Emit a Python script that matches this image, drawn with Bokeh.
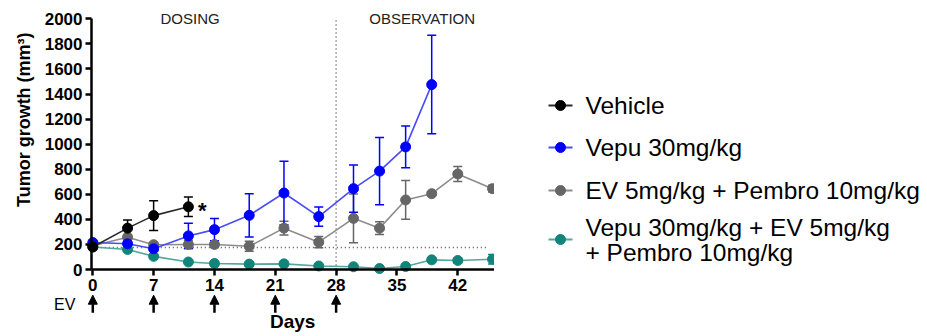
import math

from bokeh.core.properties import value
from bokeh.embed import file_html
from bokeh.layouts import row
from bokeh.models import (Arrow, ColumnDataSource, FixedTicker, Label,
                          LinearAxis, NormalHead, Range1d, TeeHead, Whisker)
from bokeh.plotting import figure
from bokeh.resources import INLINE

FONT = "Liberation Sans"

# ---- tumour volume data (mean ± SEM, mm³) ----
vehicle_days = [0, 4, 7, 11]
vehicle_mean = [180, 330, 430, 500]
vehicle_sem = [0, 65, 118, 78]

vepu_days = [0, 4, 7, 11, 14, 18, 22, 26, 30, 33, 36, 39]
vepu_mean = [215, 205, 165, 268, 318, 432, 610, 422, 645, 785, 978, 1475]
vepu_sem = [15, 20, 20, 100, 88, 172, 253, 77, 188, 268, 166, 393]

ev_days = [0, 4, 7, 11, 14, 18, 22, 26, 30, 33, 36, 39, 42, 46]
ev_mean = [190, 258, 198, 200, 200, 185, 330, 218, 408, 330, 555, 605, 762, 645]
ev_sem = [0, 20, 15, 33, 25, 40, 55, 45, 195, 50, 155, 15, 60, 27]

combo_days = [0, 4, 7, 11, 14, 18, 22, 26, 30, 33, 36, 39, 42, 46]
combo_mean = [180, 160, 105, 60, 48, 43, 45, 28, 22, 8, 24, 77, 72, 82]
combo_sem = [0, 10, 10, 8, 8, 8, 8, 8, 8, 5, 8, 10, 18, 38]

series_names = ["Vehicle", "Vepu 30mg/kg", "EV 5mg/kg + Pembro 10mg/kg",
                ["Vepu 30mg/kg + EV 5mg/kg", "+ Pembro 10mg/kg"]]

dose_days = [0, 7, 14, 21, 28]
x_ticks = [0, 7, 14, 21, 28, 35, 42]
y_ticks = list(range(0, 2001, 200))
baseline_level = 175
phase_split_day = 28
phase_labels = ["DOSING", "OBSERVATION"]
phase_label_days = [11.2, 37.9]

# styling per series: (marker colour, line colour)
styles = [
    ("#000000", "#2a2a2a"),
    ("#0000ff", "#4a4aff"),
    ("#666666", "#8c8c8c"),
    ("#12857a", "#52a79e"),
]

# The plotting frame fills the whole canvas so that the headings, dose
# arrows and titles around the axes can be drawn in data space too.
X_LO, X_HI = -0.15, 46.2          # visible extent of the time axis
Y_LO, Y_HI = 0, 2000              # visible extent of the volume axis
W, H = 494, 336
PX_PER_DAY = 8.69
PX_PER_MM3 = 0.12535
ORIGIN_PX = (92.3, 269.0)
x_range = Range1d(-ORIGIN_PX[0] / PX_PER_DAY, (W - ORIGIN_PX[0]) / PX_PER_DAY)
y_range = Range1d(-(H - ORIGIN_PX[1]) / PX_PER_MM3, ORIGIN_PX[1] / PX_PER_MM3)

p = figure(width=W, height=H, x_range=x_range, y_range=y_range,
           min_border=0, x_axis_location=None, y_axis_location=None,
           output_backend="svg", toolbar_location=None)
p.grid.visible = False
p.outline_line_color = None

xaxis = LinearAxis(fixed_location=Y_LO, bounds=(X_LO, X_HI),
                   ticker=FixedTicker(ticks=x_ticks))
yaxis = LinearAxis(fixed_location=X_LO, bounds=(Y_LO, Y_HI),
                   ticker=FixedTicker(ticks=y_ticks))
for ax in (xaxis, yaxis):
    ax.axis_line_width = 2.5
    ax.axis_line_color = "black"
    ax.major_tick_line_width = 2.5
    ax.major_tick_line_color = "black"
    ax.major_tick_out = 6
    ax.major_tick_in = 0
    ax.minor_tick_line_color = None
    ax.major_label_text_font = FONT
    ax.major_label_text_font_style = "bold"
    ax.major_label_text_font_size = "17px"
    ax.major_label_text_color = "black"
    ax.major_label_standoff = 3
p.add_layout(xaxis, "below")
p.add_layout(yaxis, "left")

# phase divider and baseline reference
p.line([phase_split_day, phase_split_day], [Y_LO, Y_HI], line_color="#555555",
       line_width=1.5, line_dash="1 3")
p.line([0, 45.5], [baseline_level, baseline_level], line_color="#555555",
       line_width=1.5, line_dash="1 3")

series = [
    (vehicle_days, vehicle_mean, vehicle_sem),
    (vepu_days, vepu_mean, vepu_sem),
    (ev_days, ev_mean, ev_sem),
    (combo_days, combo_mean, combo_sem),
]

# draw bottom-most group first so the vehicle sits on top
for idx in [3, 2, 1, 0]:
    days, mean, sem = series[idx]
    mcol, lcol = styles[idx]
    p.line(days, mean, line_color=lcol, line_width=1.6)
    keep = [i for i, s in enumerate(sem) if s > 0]
    src = ColumnDataSource(dict(
        x=[days[i] for i in keep],
        upper=[mean[i] + sem[i] for i in keep],
        lower=[mean[i] - sem[i] for i in keep],
    ))
    p.add_layout(Whisker(source=src, base="x", upper="upper", lower="lower",
                         line_color=mcol, line_width=1.5,
                         upper_head=TeeHead(size=9, line_color=mcol, line_width=1.5),
                         lower_head=TeeHead(size=9, line_color=mcol, line_width=1.5)))
    p.scatter(days, mean, size=10, fill_color=mcol, line_color=mcol)

# significance marker next to the last vehicle point
p.add_layout(Label(x=vehicle_days[-1] + 1.1, y=vehicle_mean[-1], text="*",
                   text_font=FONT, text_font_style="bold", text_font_size="22px",
                   text_baseline="middle", text_align="left", text_color="black",
                   y_offset=-4))

# phase headings, sitting on the top of the volume axis
for name, d in zip(phase_labels, phase_label_days):
    p.add_layout(Label(x=d, y=Y_HI, y_offset=0, text=name, text_font=FONT,
                       text_font_size="15px", text_align="center",
                       text_baseline="alphabetic", text_color="#222222"))

# dosing arrows under the time axis
for d in dose_days:
    p.add_layout(Arrow(x_start=d, y_start=-345, x_end=d, y_end=-205,
                       line_color="black", line_width=2.5,
                       end=NormalHead(size=9, fill_color="black",
                                      line_color="black", line_width=1)))
p.add_layout(Label(x=-2.0, y=-279, text="EV", text_font=FONT,
                   text_font_size="16px", text_align="right",
                   text_baseline="middle", text_color="black"))

# time-axis title, placed below the dosing arrows
p.add_layout(Label(x=23, y=-418, text="Days", text_font=FONT,
                   text_font_style="bold", text_font_size="19px",
                   text_align="center", text_baseline="middle",
                   text_color="black"))

p.add_layout(Label(x=-7.9, y=1195, text="Tumor growth (mm³)", angle=math.pi / 2,
                   text_font=FONT, text_font_style="bold", text_font_size="18px",
                   text_align="center", text_baseline="middle",
                   text_color="black"))

# ---- legend panel (coordinates in page pixels) ----
LW = 927 - W
lg = figure(width=LW, height=H, x_range=Range1d(W, W + LW),
            y_range=Range1d(H, 0), min_border=0, x_axis_location=None,
            y_axis_location=None, output_backend="svg", toolbar_location=None)
lg.grid.visible = False
lg.outline_line_color = None

entry_rows = [105, 147, 190, 239]
line_gap = 25
for (mcol, lcol), name, ycen in zip(styles, series_names, entry_rows):
    lg.line([548, 572], [ycen, ycen], line_color=lcol, line_width=2)
    lg.scatter([560], [ycen], size=10, fill_color=mcol, line_color=mcol)
    lines = name if isinstance(name, list) else [name]
    offs = [(k - (len(lines) - 1) / 2) * line_gap for k in range(len(lines))]
    lg.text(x=[585] * len(lines), y=[ycen + o for o in offs], text=lines,
            text_font=value(FONT), text_font_size="24.5px",
            text_baseline="middle", text_align="left", text_color="black")

layout = row(p, lg)
open("out.html", "w").write(file_html(layout, INLINE))
